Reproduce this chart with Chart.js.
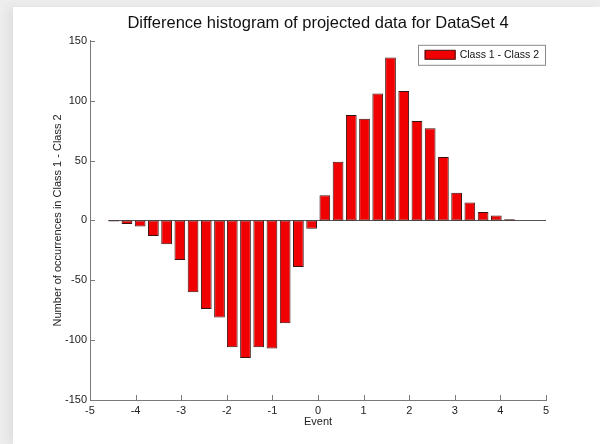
<!DOCTYPE html>
<html>
<head>
<meta charset="utf-8">
<title>Difference histogram</title>
<script src="https://cdn.jsdelivr.net/npm/chart.js@4/dist/chart.umd.min.js"></script>
<style>
  html, body { margin: 0; padding: 0; }
  body { width: 600px; height: 444px; background: #ededed; overflow: hidden; position: relative; }
  #panel {
    position: absolute; left: 13px; top: 7px; width: 587px; height: 437px;
    background: #ffffff; box-shadow: -5px 0 9px rgba(0,0,0,0.06);
  }
  canvas { display: block; }
</style>
</head>
<body>
<div id="panel"><canvas id="chart" width="587" height="437"></canvas></div>
<script>
// Bin centres of the difference histogram
const binCenters = [
  -4.48, -4.19, -3.90, -3.61, -3.32, -3.03, -2.74, -2.45, -2.16, -1.88, -1.59,
  -1.30, -1.01, -0.72, -0.43, -0.14, 0.15, 0.44, 0.73, 1.02, 1.31, 1.59, 1.88,
  2.17, 2.46, 2.75, 3.04, 3.33, 3.62, 3.91, 4.20
];
// Count of Class 1 minus count of Class 2 in each bin
const diffCounts = [
  -1, -3, -5, -13, -20, -33, -60, -74, -81, -106, -115,
  -106, -107, -86, -39, -7, 21, 49, 88, 85, 106, 136, 108,
  83, 77, 53, 23, 15, 7, 4, 1
];
const seriesName = 'Class 1 - Class 2';
const xTicks = [-5, -4, -3, -2, -1, 0, 1, 2, 3, 4, 5];
const yTicks = [-150, -100, -50, 0, 50, 100, 150];

const FONT = "'Liberation Sans', Arial, Helvetica, sans-serif";
const AXIS_COLOR = '#7a7a7a';
const BAR_FILL = '#f00000';
const BAR_EDGE = '#3a1212';

// Zero baseline, inward tick marks and boxed legend
const decorations = {
  id: 'decorations',
  beforeDatasetsDraw(chart) {
    const { ctx, chartArea, scales } = chart;
    const meta = chart.getDatasetMeta(0);
    const first = meta.data[0];
    const y0 = Math.round(scales.y.getPixelForValue(0)) + 0.5;
    ctx.save();
    ctx.strokeStyle = '#555555';
    ctx.lineWidth = 1;
    ctx.beginPath();
    ctx.moveTo(first.x - first.width / 2, y0);
    ctx.lineTo(chartArea.right, y0);
    ctx.stroke();
    ctx.restore();
  },
  afterDraw(chart) {
    const { ctx, chartArea, scales } = chart;
    ctx.save();
    ctx.strokeStyle = AXIS_COLOR;
    ctx.lineWidth = 1;
    ctx.beginPath();
    xTicks.forEach(v => {
      const px = Math.round(scales.x.getPixelForValue(v)) + 0.5;
      ctx.moveTo(px, chartArea.bottom);
      ctx.lineTo(px, chartArea.bottom - 5);
    });
    yTicks.forEach(v => {
      const py = Math.round(scales.y.getPixelForValue(v)) + 0.5;
      ctx.moveTo(chartArea.left, py);
      ctx.lineTo(chartArea.left + 5, py);
    });
    ctx.stroke();

    // legend box
    const label = chart.data.datasets[0].label;
    ctx.font = '10.5px ' + FONT;
    const tw = ctx.measureText(label).width;
    const boxH = 20;
    const boxW = 7 + 31 + 4 + tw + 6;
    const bx = chartArea.right - 1 - boxW;
    const by = chartArea.top + 4;
    ctx.fillStyle = '#ffffff';
    ctx.fillRect(bx, by, boxW, boxH);
    ctx.strokeStyle = '#8a8a8a';
    ctx.strokeRect(Math.round(bx) + 0.5, by + 0.5, Math.round(boxW), boxH);
    ctx.fillStyle = BAR_FILL;
    ctx.fillRect(bx + 7, by + 5.5, 31, 9);
    ctx.strokeStyle = BAR_EDGE;
    ctx.strokeRect(bx + 7.5, by + 5.5, 30, 9);
    ctx.fillStyle = '#111111';
    ctx.textBaseline = 'middle';
    ctx.textAlign = 'left';
    ctx.fillText(label, bx + 42, by + boxH / 2 + 0.5);
    ctx.restore();
  }
};

new Chart(document.getElementById('chart'), {
  type: 'bar',
  data: {
    datasets: [{
      label: seriesName,
      data: binCenters.map((x, i) => ({ x: x, y: diffCounts[i] })),
      backgroundColor: BAR_FILL,
      borderColor: BAR_EDGE,
      borderWidth: 1,
      borderSkipped: false,
      barPercentage: 0.84,
      categoryPercentage: 1.0
    }]
  },
  options: {
    responsive: false,
    animation: false,
    devicePixelRatio: 1,
    layout: { padding: { left: 33, right: 54, top: 0, bottom: 14 } },
    plugins: {
      legend: { display: false },
      tooltip: { enabled: false },
      title: {
        display: true,
        fullSize: false,
        text: 'Difference histogram of projected data for DataSet 4',
        color: '#111111',
        font: { family: FONT, size: 16.5, weight: 'normal' },
        padding: { top: 7, bottom: 7 }
      }
    },
    scales: {
      x: {
        type: 'linear',
        min: -5, max: 5,
        offset: false,
        afterBuildTicks: s => { s.ticks = xTicks.map(v => ({ value: v })); },
        afterFit: s => { s.height = 30; },
        ticks: { color: '#222222', font: { family: FONT, size: 11 }, padding: 4, maxRotation: 0 },
        grid: { display: false, drawTicks: false, offset: false },
        border: { display: true, color: AXIS_COLOR, width: 1 },
        title: {
          display: true, text: 'Event', color: '#222222',
          font: { family: FONT, size: 11 }, padding: { top: 0, bottom: 1 }
        }
      },
      y: {
        min: -150, max: 150,
        afterBuildTicks: s => { s.ticks = yTicks.map(v => ({ value: v })); },
        afterFit: s => { s.width = 44; },
        ticks: { color: '#222222', font: { family: FONT, size: 11 }, padding: 3 },
        grid: { display: false, drawTicks: false },
        border: { display: true, color: AXIS_COLOR, width: 1 },
        title: {
          display: true, text: 'Number of occurrences in Class 1 - Class 2', color: '#222222',
          font: { family: FONT, size: 11 }, padding: { top: 5, bottom: 0 }
        }
      }
    }
  },
  plugins: [decorations]
});
</script>
</body>
</html>
